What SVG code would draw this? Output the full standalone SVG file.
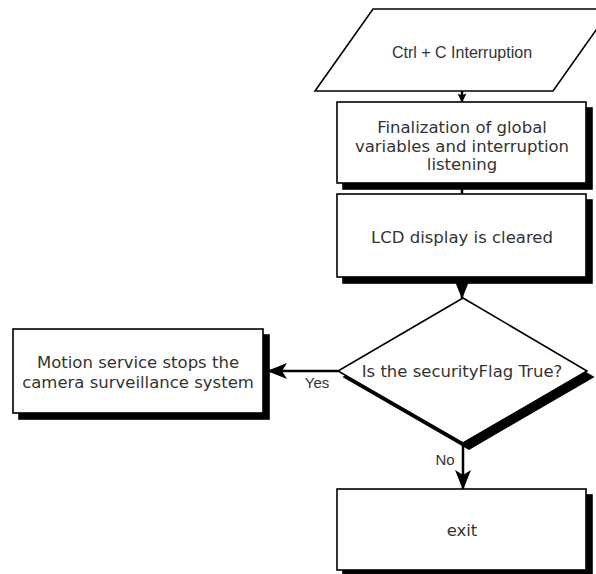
<svg xmlns="http://www.w3.org/2000/svg" width="596" height="574" viewBox="0 0 596 574">
  <style>
    .box { fill: #ffffff; stroke: #000000; stroke-width: 1.6; }
    .shadow { fill: #000000; stroke: #000000; stroke-width: 1.6; }
    .lbl { font-family: "DejaVu Sans", Verdana, sans-serif; font-size: 16.5px; fill: #333333; text-anchor: middle; }
    .sans { font-family: "Liberation Sans", Arial, sans-serif; fill: #333333; text-anchor: middle; }
    .edge { fill: none; stroke: #000000; stroke-width: 2.5; }
  </style>
  <defs>
    <marker id="arrow" viewBox="0 0 20 16" markerWidth="20" markerHeight="16" refX="19" refY="8" orient="auto" markerUnits="userSpaceOnUse">
      <path d="M0,0 L20,8 L0,16 L5,8 z" fill="#000000"/>
    </marker>
    <marker id="arrowSmall" viewBox="0 0 10 10" markerWidth="9" markerHeight="9" refX="9.5" refY="5" orient="auto" markerUnits="userSpaceOnUse">
      <path d="M0,0 L10,5 L0,10 L2,5 z" fill="#000000"/>
    </marker>
  </defs>
  <rect width="596" height="574" fill="#ffffff"/>

  <!-- connectors -->
  <g id="connectors">
    <line class="edge" x1="462" y1="91" x2="462" y2="102" stroke-width="1.6" marker-end="url(#arrowSmall)"/>
    <line class="edge" x1="462" y1="184" x2="462" y2="194"/>
    <line class="edge" x1="462" y1="277" x2="462" y2="298" marker-end="url(#arrow)"/>
    <line class="edge" x1="338" y1="371" x2="268" y2="371" marker-end="url(#arrow)"/>
    <line class="edge" x1="463" y1="443" x2="463" y2="489" marker-end="url(#arrow)"/>
    <text class="sans" x="317" y="388" font-size="15">Yes</text>
    <text class="sans" x="445" y="465" font-size="15">No</text>
  </g>

  <!-- start: interrupt input -->
  <g id="interrupt">
    <polygon class="box" points="373,9 611,9 553,91 315,91"/>
    <text class="sans" x="462" y="58" font-size="16">Ctrl + C Interruption</text>
  </g>

  <!-- finalization step -->
  <g id="finalize">
    <rect class="shadow" x="343" y="108" width="249" height="81"/>
    <rect class="box" x="337" y="102" width="249" height="81"/>
    <text class="lbl" x="462" y="133">Finalization of global</text>
    <text class="lbl" x="462" y="151.5">variables and interruption</text>
    <text class="lbl" x="462" y="170">listening</text>
  </g>

  <!-- LCD clear step -->
  <g id="lcd">
    <rect class="shadow" x="343" y="200" width="249" height="83"/>
    <rect class="box" x="337" y="194" width="249" height="83"/>
    <text class="lbl" x="462" y="243">LCD display is cleared</text>
  </g>

  <!-- decision -->
  <g id="decision">
    <polygon class="shadow" points="469,304 593,377 469,449 344,377"/>
    <polygon class="box" points="463,298 587,371 463,443 338,371"/>
    <text class="lbl" x="462" y="377">Is the securityFlag True?</text>
  </g>

  <!-- motion service stop -->
  <g id="motion">
    <rect class="shadow" x="19" y="335" width="250" height="84"/>
    <rect class="box" x="13" y="329" width="250" height="84"/>
    <text class="lbl" x="138" y="368">Motion service stops the</text>
    <text class="lbl" x="138" y="388">camera surveillance system</text>
  </g>

  <!-- exit -->
  <g id="exit">
    <rect class="shadow" x="343" y="495" width="249" height="81"/>
    <rect class="box" x="337" y="489" width="249" height="81"/>
    <text class="lbl" x="462" y="536">exit</text>
  </g>
</svg>
